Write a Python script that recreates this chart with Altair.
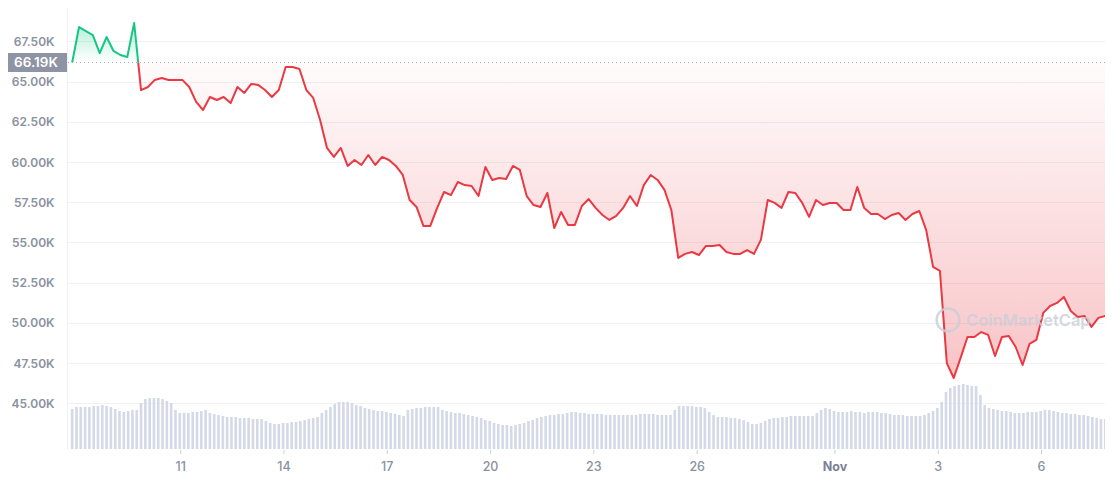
import altair as alt
import pandas as pd

# ---------------- data ----------------
T0 = 7.85          # first sample (day index on the axis)
STEP = 0.2         # days between price samples
BASE = 66190       # reference (open) price shown in the tag

price_usd = [
    66190, 68400, 68150, 67900, 66780, 67780, 66910, 66660, 66540, 68650,
    64480, 64670, 65110, 65230, 65110, 65110, 65110, 64670, 63740, 63240,
    64050, 63860, 64050, 63670, 64670, 64300, 64860, 64800, 64480, 64050,
    64480, 65910, 65910, 65790, 64480, 63990, 62620, 60880, 60320, 60880,
    59760, 60130, 59820, 60440, 59820, 60320, 60130, 59760, 59200, 57640,
    57210, 56030, 56030, 57150, 58140, 57950, 58760, 58570, 58510, 57890,
    59690, 58890, 59010, 58950, 59760, 59510, 57890, 57330, 57210, 58080,
    55900, 56900, 56090, 56090, 57270, 57700, 57150, 56710, 56400, 56650,
    57150, 57890, 57270, 58570, 59200, 58890, 58270, 57020, 54040, 54290,
    54410, 54220, 54780, 54780, 54840, 54410, 54290, 54290, 54530, 54290,
    55160, 57640, 57460, 57150, 58140, 58080, 57460, 56590, 57640, 57330,
    57460, 57460, 57020, 57020, 58450, 57150, 56770, 56770, 56460, 56710,
    56830, 56400, 56770, 56960, 55780, 53480, 53230, 47500, 46570, 47820,
    49120, 49120, 49430, 49250, 47940, 49120, 49190, 48500, 47380, 48690,
    48940, 50620, 51050, 51240, 51610, 50740, 50370, 50430, 49750, 50310,
    50430,
]

VSTEP = 0.125      # days between volume bars
volume_bn = [
    20.0, 21.0, 21.0, 21.0, 21.0, 21.5, 21.5, 22.0, 21.5, 21.0,
    20.0, 19.0, 18.5, 19.0, 19.5, 19.5, 23.0, 25.0, 25.5, 25.5,
    25.5, 25.0, 24.0, 23.0, 19.5, 18.0, 18.0, 18.0, 18.5, 18.5,
    19.0, 19.5, 18.0, 17.5, 17.0, 16.5, 16.0, 16.0, 16.0, 15.5,
    15.5, 15.5, 15.0, 15.0, 15.0, 14.0, 13.0, 12.5, 12.5, 13.0,
    13.0, 13.5, 13.5, 14.0, 14.5, 15.0, 15.5, 16.0, 18.0, 19.5,
    21.0, 22.5, 23.5, 23.5, 23.5, 23.0, 22.0, 21.5, 20.5, 20.0,
    19.5, 19.0, 19.0, 18.5, 18.0, 17.5, 17.0, 16.5, 19.5, 20.0,
    20.5, 20.5, 21.0, 21.0, 21.0, 21.0, 19.5, 19.0, 18.5, 18.0,
    18.0, 17.5, 17.0, 16.5, 16.0, 15.5, 14.5, 14.0, 13.0, 12.5,
    12.0, 12.0, 11.5, 12.0, 12.5, 13.0, 14.0, 14.5, 15.5, 16.0,
    16.5, 17.0, 17.0, 17.5, 17.5, 18.0, 18.5, 18.5, 18.0, 18.0,
    17.5, 17.5, 17.5, 17.5, 17.0, 17.0, 17.0, 17.0, 17.0, 17.0,
    17.0, 17.0, 17.5, 17.5, 17.5, 17.5, 17.0, 17.0, 17.0, 17.0,
    19.5, 21.5, 21.5, 21.5, 21.5, 21.0, 21.0, 20.5, 18.5, 17.0,
    16.0, 16.0, 16.0, 15.5, 15.5, 15.0, 14.5, 13.5, 12.5, 12.5,
    13.0, 14.0, 15.0, 15.5, 15.5, 16.0, 16.0, 16.5, 16.5, 16.5,
    16.5, 16.5, 16.5, 18.0, 19.5, 20.5, 20.0, 19.0, 18.5, 18.5,
    18.5, 19.0, 18.5, 18.5, 18.0, 18.5, 18.5, 18.5, 18.0, 18.0,
    17.5, 17.0, 17.0, 17.0, 16.5, 16.5, 16.5, 16.5, 17.0, 18.0,
    19.0, 20.5, 23.5, 28.5, 30.5, 31.5, 32.0, 32.5, 32.0, 31.5,
    31.5, 27.0, 22.0, 20.5, 20.0, 19.5, 19.0, 19.0, 18.5, 18.0,
    18.0, 18.0, 18.5, 18.5, 18.5, 19.0, 19.5, 19.5, 19.0, 18.5,
    18.0, 18.0, 17.5, 17.5, 17.0, 17.0, 16.5, 16.0, 15.5, 15.0,
    15.0,
]

Y_TICKS = [45000, 47500, 50000, 52500, 55000, 57500, 60000, 62500, 65000, 67500]
X_TICK_POS = [11, 14, 17, 20, 23, 26, 30, 33, 36]
X_TICK_LABELS = ["11", "14", "17", "20", "23", "26", "Nov", "3", "6"]
MONTH_LABELS = ["Nov"]
BASE_LABEL = "66.19K"
WATERMARK = "CoinMarketCap"

# ---------------- build tables ----------------
rows = []
seg = 0
prev = None
for i, p in enumerate(price_usd):
    t = T0 + STEP * i
    side = "up" if p >= BASE else "down"
    if prev is not None and side != prev[2]:
        pt, pp, ps = prev
        tc = pt + (BASE - pp) / (p - pp) * (t - pt)
        rows.append(dict(t=tc, price=BASE, seg=seg, side=ps))
        seg += 1
        rows.append(dict(t=tc, price=BASE, seg=seg, side=side))
    rows.append(dict(t=t, price=p, seg=seg, side=side))
    prev = (t, p, side)
price_df = pd.DataFrame(rows)
price_df["base"] = BASE

vol_df = pd.DataFrame({
    "t": [T0 + VSTEP * i for i in range(len(volume_bn))],
    "vol": volume_bn,
})

xt_df = pd.DataFrame({"t": X_TICK_POS, "label": X_TICK_LABELS})
xt_df["month"] = xt_df["label"].isin(MONTH_LABELS)
base_df = pd.DataFrame({"base": [BASE], "label": [BASE_LABEL]})
wm_df = pd.DataFrame({"name": [WATERMARK]})

# ---------------- styling ----------------
GREEN = "#16c784"
RED = "#ea3943"
GREY = "#8a91a1"
FONT = "Inter"
W, H = 1038, 441

x_scale = alt.Scale(domain=[7.845, 37.698], nice=False, zero=False)
y_scale = alt.Scale(domain=[42157, 69583], nice=False, zero=False)
v_scale = alt.Scale(domain=[0, 220.5], nice=False, zero=True)

y_axis = alt.Axis(
    values=Y_TICKS, orient="left",
    labelExpr="format(datum.value / 1000, '.2f') + 'K'",
    grid=True, gridColor="#eff2f5", gridWidth=1,
    ticks=False, domain=True, domainColor="#eef0f4",
    labelColor=GREY, labelFont=FONT, labelFontSize=12, labelFontWeight=600,
    labelPadding=13, title=None,
)

X = alt.X("t:Q", scale=x_scale, axis=None)

volume = alt.Chart(vol_df).mark_bar(size=2.6, color="#d3d9e6", clip=True).encode(
    x=X,
    y=alt.Y("vol:Q", scale=v_scale, axis=None),
)

# x axis drawn from the tick table on the shared x scale
x_ticks = alt.Chart(xt_df).mark_rule(color="#c8cfdc", strokeWidth=1).encode(
    x=X, y=alt.value(H + 1), y2=alt.value(H + 5),
)
x_labels = alt.Chart(xt_df).transform_filter("!datum.month").mark_text(
    font=FONT, fontSize=12.5, fontWeight=500, color=GREY, baseline="middle", align="center"
).encode(x=X, y=alt.value(H + 18), text="label:N")
x_month = alt.Chart(xt_df).transform_filter("datum.month").mark_text(
    font=FONT, fontSize=12.5, fontWeight=700, color="#7a8192", baseline="middle", align="center"
).encode(x=X, y=alt.value(H + 18), text="label:N")

grad_up = alt.Gradient(
    gradient="linear",
    stops=[alt.GradientStop(color="rgba(22,199,132,0.32)", offset=0),
           alt.GradientStop(color="rgba(22,199,132,0.0)", offset=1)],
    x1=0, x2=0, y1=0, y2=1,
)
grad_down = alt.Gradient(
    gradient="linear",
    stops=[alt.GradientStop(color="rgba(234,57,67,0.02)", offset=0),
           alt.GradientStop(color="rgba(234,57,67,0.30)", offset=1)],
    x1=0, x2=0, y1=0, y2=1,
)

area_up = alt.Chart(price_df).transform_filter("datum.side == 'up'").mark_area(
    color=grad_up, clip=True
).encode(
    x=X,
    y=alt.Y("price:Q", scale=y_scale, axis=y_axis),
    y2="base:Q",
    detail="seg:N",
)
area_down = alt.Chart(price_df).transform_filter("datum.side == 'down'").mark_area(
    color=grad_down, clip=True
).encode(
    x=X,
    y=alt.Y("price:Q", scale=y_scale, axis=None),
    y2="base:Q",
    detail="seg:N",
)
line = alt.Chart(price_df).mark_line(strokeWidth=2, clip=True, strokeJoin="round").encode(
    x=X,
    y=alt.Y("price:Q", scale=y_scale, axis=None),
    color=alt.Color("side:N", scale=alt.Scale(domain=["up", "down"], range=[GREEN, RED]), legend=None),
    detail="seg:N",
    order="t:Q",
)
base_rule = alt.Chart(base_df).mark_rule(strokeDash=[1, 3], color="#a3abbb", strokeWidth=1).encode(
    y=alt.Y("base:Q", scale=y_scale, axis=None),
)
tag_box = alt.Chart(base_df).mark_point(
    shape="M-1,-0.317L1,-0.317L1,0.317L-1,0.317Z", filled=True, opacity=1,
    size=3600, color="#8e94a3", clip=False,
).encode(
    x=alt.value(-30),
    y=alt.Y("base:Q", scale=y_scale, axis=None),
)
tag_text = alt.Chart(base_df).mark_text(
    color="white", font=FONT, fontSize=13.5, fontWeight=600, align="center", baseline="middle"
).encode(
    x=alt.value(-31),
    y=alt.Y("base:Q", scale=y_scale, axis=None),
    text="label:N",
)
wm_logo = alt.Chart(wm_df).mark_point(
    shape="circle", filled=False, size=520, strokeWidth=2.5, color="#c9ced9", opacity=0.8
).encode(x=alt.value(881), y=alt.value(312))
wm_text = alt.Chart(wm_df).mark_text(
    font=FONT, fontSize=16.5, fontWeight=600, color="#c9ced9", opacity=0.8, align="left", baseline="middle"
).encode(x=alt.value(899), y=alt.value(313), text="name:N")

chart = alt.layer(
    volume, x_ticks, x_labels, x_month,
    area_up, area_down, line, base_rule, wm_logo, wm_text, tag_box, tag_text
).resolve_scale(y="independent").properties(
    width=W,
    height=H,
    padding={"left": 59, "top": 0, "right": 0, "bottom": 31},
    autosize=alt.AutoSizeParams(type="none"),
    background="white",
).configure_view(stroke=None)

chart.save("out.html", embed_options={"renderer": "svg", "actions": False})
